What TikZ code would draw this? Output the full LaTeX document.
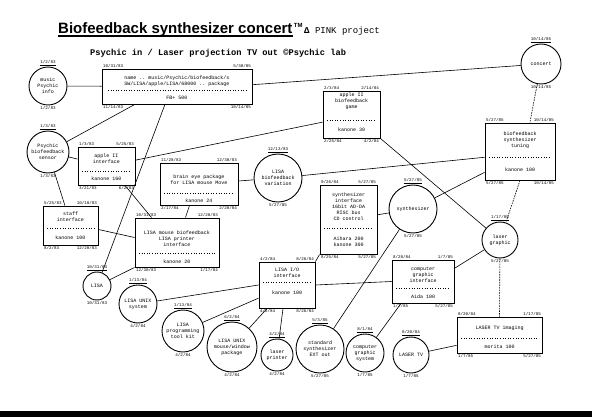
\documentclass[tikz,border=0pt]{standalone}
\usepackage{fontspec}
\setmainfont{Liberation Sans}
\setmonofont{Liberation Mono}
\usetikzlibrary{calc}
\tikzset{
  pbox/.style={draw, line width=0.9pt, inner sep=0pt, rectangle},
  pcirc/.style={draw, line width=0.9pt, inner sep=0pt, circle},
  lbl/.style={inner sep=0pt, align=center, font=\ttfamily\fontsize{5}{6}\selectfont},
  date/.style={inner sep=0.8pt, font=\ttfamily\fontsize{4.2}{5}\selectfont},
  conn/.style={line width=0.6pt},
  dconn/.style={line width=0.6pt, dash pattern=on 1.6pt off 1pt},
  sepline/.style={line width=0.5pt, dash pattern=on 1pt off 1.6pt},
}
\newcommand\pbx[5]{\node[pbox, minimum width={#4-#2}, minimum height={#5-#3}] (#1) at ({(#2+#4)/2},{(#3+#5)/2}) {};}
\newcommand\bdates[5]{%
  \node[date, anchor=south west] (#1tl) at ([xshift=0.5pt]#1.north west) {#2};
  \node[date, anchor=south east] (#1tr) at ([xshift=-0.5pt]#1.north east) {#3};
  \node[date, anchor=north west] (#1bl) at ([xshift=0.5pt]#1.south west) {#4};
  \node[date, anchor=north east] (#1br) at ([xshift=-0.5pt]#1.south east) {#5};}
\newcommand\pcr[5]{\node[pcirc, minimum size={2*#4}] (#1) at (#2,#3) {};
  \node[lbl] (#1t) at (#1) {#5};}
\newcommand\cdates[3]{%
  \node[date, anchor=south] (#1top) at (#1.north) {\underline{#2}};
  \node[date, anchor=north] (#1bot) at (#1.south) {#3};}
\begin{document}
\begin{tikzpicture}[x=1pt, y=-1pt]
\useasboundingbox (0,0) rectangle (592,417);
\fill[white] (0,0) rectangle (592,417);
\fill[black] (0,411) rectangle (592,417);

% title
\node[inner sep=0pt, anchor=base west, font=\bfseries\fontsize{15}{15}\selectfont] (title) at (58,34) {Biofeedback synthesizer concert};
\draw[line width=1.1pt] ([yshift=-2pt]title.base west) -- ([yshift=-2pt]title.base east);
\node[inner sep=0pt, anchor=base west, font=\bfseries\fontsize{6}{6}\selectfont] (tm) at ([xshift=1pt,yshift=6pt]title.base east) {TM};
\node[inner sep=0pt, anchor=base west, font=\ttfamily\fontsize{9}{9}\selectfont] (pink) at (304,34) {\textbf{Δ} PINK project};
\node[inner sep=0pt, anchor=base west, font=\ttfamily\bfseries\fontsize{8.7}{9}\selectfont] (sub) at (90,56) {Psychic in / Laser projection TV out ©Psychic lab};

% boxes
\pbx{B1}{102}{69}{252}{104}
\node[lbl] (B1t) at (177,81) {name .. music/Psychic/biofeedback/s\\SW/LISA/apple/LISA/68000 .. package};
\draw[sepline] (108,90.5) -- (246,90.5);
\node[lbl] (B1b) at (177,98) {FB+ 500};
\bdates{B1}{10/31/83}{5/30/85}{11/14/83}{10/14/85}

\pbx{B2}{323}{91}{380}{138}
\node[lbl] (B2t) at (351.5,101) {apple II\\biofeedback\\game};
\draw[sepline] (327,120) -- (376,120);
\node[lbl] (B2b) at (351.5,130) {kanone 30};
\bdates{B2}{2/3/84}{2/14/84}{2/25/84}{4/2/84}

\pbx{B3}{78}{147}{135}{185}
\node[lbl] (B3t) at (106.5,158.5) {apple II\\interface};
\draw[sepline] (82,171) -- (131,171);
\node[lbl] (B3b) at (106.5,179) {kanone 160};
\bdates{B3}{1/3/83}{5/25/83}{3/21/83}{6/2/83}

\pbx{B4}{43}{206}{98}{245}
\node[lbl] (B4t) at (70.5,216.5) {staff\\interface};
\draw[sepline] (47,228) -- (94,228);
\node[lbl] (B4b) at (70.5,238) {kanone 100};
\bdates{B4}{5/25/83}{10/10/83}{8/2/83}{12/20/83}

\pbx{B5}{160}{163}{238}{205}
\node[lbl] (B5t) at (199,180) {brain eye package\\for LISA mouse Move};
\draw[sepline] (164,193) -- (234,193);
\node[lbl] (B5b) at (199,201) {kanone 24};
\bdates{B5}{11/28/83}{12/30/83}{2/17/84}{2/20/84}

\pbx{B6}{135}{218}{219}{267}
\node[lbl] (B6t) at (177,238.5) {LISA mouse biofeedback\\LISA printer\\interface};
\draw[sepline] (139,253) -- (215,253);
\node[lbl] (B6b) at (177,262) {kanone 20};
\bdates{B6}{10/31/83}{12/28/83}{12/30/83}{1/17/84}

\pbx{B7}{485}{123}{555}{180}
\node[lbl] (B7t) at (520,140) {biofeedback\\synthesizer\\tuning};
\draw[sepline] (489,157) -- (551,157);
\node[lbl] (B7b) at (520,170) {kanone 100};
\bdates{B7}{5/27/85}{10/14/85}{5/27/85}{10/14/85}

\pbx{B8}{320}{185}{377}{254}
\node[lbl] (B8t) at (348.5,206.5) {synthesizer\\interface\\16bit AD-DA\\RISC bus\\CD control};
\draw[sepline] (324,228) -- (373,228);
\node[lbl] (B8b) at (348.5,241.5) {Aihara 200\\kanone 300};
\bdates{B8}{9/26/84}{5/27/85}{8/25/84}{5/27/85}

\pbx{B9}{259}{262}{315}{308}
\node[lbl] (B9t) at (287,272.5) {LISA I/O\\interface};
\draw[sepline] (263,282) -- (311,282);
\node[lbl] (B9b) at (287,293) {kanone 100};
\bdates{B9}{4/2/84}{8/26/84}{4/2/84}{8/26/84}

\pbx{B10}{392}{260}{454}{303}
\node[lbl] (B10t) at (423,274.5) {computer\\graphic\\interface};
\draw[sepline] (396,288) -- (450,288);
\node[lbl] (B10b) at (423,297) {Aida 100};
\bdates{B10}{8/28/84}{1/7/85}{1/7/85}{5/27/85}

\pbx{B11}{457}{317}{542}{353}
\node[lbl] (B11t) at (499.5,328) {LASER TV imaging};
\draw[sepline] (461,338) -- (538,338);
\node[lbl] (B11b) at (499.5,347) {morita 100};
\bdates{B11}{8/20/84}{1/17/85}{1/7/85}{5/27/85}

% circles
\pcr{C1}{48}{86}{19}{music\\Psychic\\info}
\cdates{C1}{1/2/83}{1/2/83}
\pcr{C2}{48}{152}{21}{Psychic\\biofeedback\\sensor}
\cdates{C2}{1/3/83}{1/3/83}
\pcr{C3}{278}{178}{24}{LISA\\biofeedback\\variation}
\cdates{C3}{12/13/83}{5/27/85}
\pcr{C4}{541}{64}{20}{concert}
\cdates{C4}{10/14/85}{10/14/85}
\pcr{C5}{413}{209}{24}{synthesizer}
\cdates{C5}{5/27/85}{5/27/85}
\pcr{C6}{500}{240}{18}{laser\\graphic}
\cdates{C6}{1/17/85}{5/27/85}
\pcr{C7}{97}{286}{14}{LISA}
\cdates{C7}{10/31/83}{10/31/83}
\pcr{C8}{138}{304}{19}{LISA UNIX\\system}
\cdates{C8}{1/13/84}{4/2/84}
\pcr{C9}{183}{331}{21}{LISA\\programming\\tool kit}
\cdates{C9}{1/13/84}{4/2/84}
\pcr{C10}{232}{347}{25}{LISA UNIX\\mouse/window\\package}
\cdates{C10}{6/2/84}{4/2/84}
\pcr{C11}{277}{355}{16}{laser\\printer}
\cdates{C11}{4/2/84}{4/2/84}
\pcr{C12}{320}{349}{24}{standard\\synthesizer\\EXT out}
\cdates{C12}{5/3/85}{5/27/85}
\pcr{C13}{365}{353}{19}{computer\\graphic\\system}
\cdates{C13}{8/1/84}{1/7/85}
\pcr{C14}{411}{355}{18}{LASER TV}
\cdates{C14}{8/20/84}{1/7/85}

% connectors
\draw[conn] (C1) -- (B1);
\draw[conn] ($(B1.north east)!0.45!(B1.south east)$) -- (C4);
\draw[conn] (C2) -- ($(B1.south west)!0.22!(B1.south east)$);
\draw[conn] ($(B1.south west)!0.42!(B1.south east)$) -- (C7);
\draw[conn] (C2) -- (B3);
\draw[conn] (C2) -- ($(B4.north west)!0.4!(B4.north east)$);
\draw[conn] ($(B3.north east)!0.35!(B3.south east)$) -- ($(B2.north west)!0.66!(B2.south west)$);
\draw[conn] ($(B3.south west)!0.82!(B3.south east)$) -- ($(B6.north west)!0.2!(B6.north east)$);
\draw[conn] ($(B4.north east)!0.6!(B4.south east)$) -- ($(B6.north west)!0.4!(B6.south west)$);
\draw[conn] (C7) -- (B6.south west);
\draw[conn] (B5) -- (C3);
\draw[conn] ($(B5.south west)!0.38!(B5.south east)$) -- ($(B6.north west)!0.6!(B6.north east)$);
\draw[conn] (C3) -- ($(B7.north west)!0.6!(B7.south west)$);
\draw[conn] (B2.south east) -- (C6);
\draw[dconn] (C4) -- ($(B7.north west)!0.64!(B7.north east)$);
\draw[dconn] ($(B7.south west)!0.5!(B7.south east)$) -- (C6);
\draw[conn] (C5) -- ($(B7.north west)!0.86!(B7.south west)$);
\draw[conn] (B8) -- (C5);
\draw[conn] (C5) -- (C12);
\draw[conn] (B9.north east) -- (B8.south west);
\draw[conn] (B9.east) -- (B10.west);
\draw[conn] ($(B10.north east)!0.2!(B10.south east)$) -- (C6);
\draw[conn] ($(B10.south west)!0.15!(B10.south east)$) -- (C13);
\draw[dconn] (C6) -- (B11.north);
\draw[conn] ($(B11.north west)!0.78!(B11.south west)$) -- (C14);
\draw[conn] ($(B9.north west)!0.5!(B9.south west)$) -- (C8);
\draw[conn] ($(B9.north west)!0.78!(B9.south west)$) -- (C9);
\draw[conn] ($(B9.south west)!0.15!(B9.south east)$) -- (C10);
\draw[conn] ($(B9.south west)!0.43!(B9.south east)$) -- (C11);
\end{tikzpicture}
\end{document}
